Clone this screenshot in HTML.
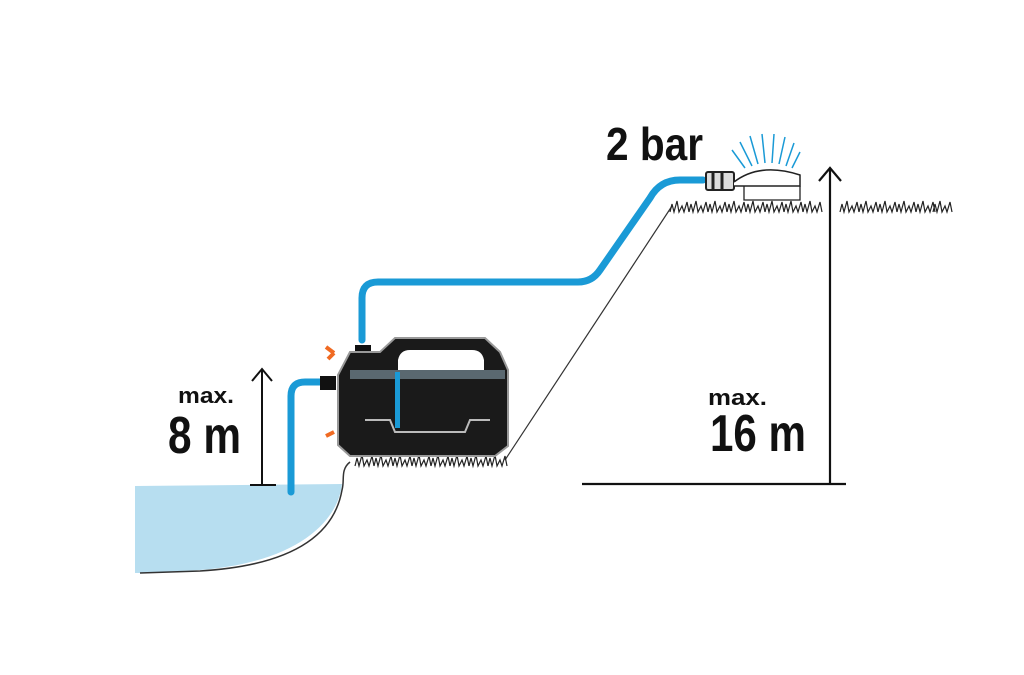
<!DOCTYPE html>
<html><head><meta charset="utf-8"><style>
html,body{margin:0;padding:0;background:#fff;}
svg{display:block;}
text{font-family:"Liberation Sans",sans-serif;font-weight:bold;fill:#111;}
</style></head><body>
<svg width="1024" height="675" viewBox="0 0 1024 675" xmlns="http://www.w3.org/2000/svg">
<defs>
<path id="g" d="M0,0 l2,-8 l2,8 l3,-11 l2,11 l3,-6 l2,6 l3,-10 l2,10"/>
</defs>
<!-- water -->
<path d="M135,486 L342,484 C338,520 300,562 200,570 L140,573 L135,573 Z" fill="#b7def0"/>
<path d="M350,462 C340,470 345,480 342,490 C335,530 300,565 200,571 L140,573" fill="none" stroke="#333" stroke-width="1.5"/>
<!-- slope line -->
<path d="M505,460 L672,206" fill="none" stroke="#333" stroke-width="1.2"/>
<!-- grass -->
<g fill="none" stroke="#222" stroke-width="1.2">
<use href="#g" x="355" y="466"/><use href="#g" x="374" y="466"/><use href="#g" x="393" y="466"/><use href="#g" x="412" y="466"/><use href="#g" x="431" y="466"/><use href="#g" x="450" y="466"/><use href="#g" x="469" y="466"/><use href="#g" x="488" y="466"/>
<use href="#g" x="670" y="212"/><use href="#g" x="689" y="212"/><use href="#g" x="708" y="212"/><use href="#g" x="727" y="212"/><use href="#g" x="746" y="212"/><use href="#g" x="765" y="212"/><use href="#g" x="784" y="212"/><use href="#g" x="803" y="212"/>
<use href="#g" x="840" y="212"/><use href="#g" x="859" y="212"/><use href="#g" x="878" y="212"/><use href="#g" x="897" y="212"/><use href="#g" x="916" y="212"/><use href="#g" x="933" y="212"/>
</g>
<!-- arrows -->
<path d="M262,485 V370 M252,381 L262,369 L272,381 M250,485 H276" fill="none" stroke="#111" stroke-width="2"/>
<path d="M830,484 V168 M819,181 L830,168 L841,181 M582,484 H846" fill="none" stroke="#111" stroke-width="2.2"/>
<!-- hoses -->
<path d="M291,492 V396 Q291,382 305,382 H322" fill="none" stroke="#1a9ad6" stroke-width="7" stroke-linecap="round"/>
<path d="M362,340 V298 Q362,282 378,282 H578 Q592,282 600,270 L650,198 Q660,180 680,180 H703" fill="none" stroke="#1a9ad6" stroke-width="7" stroke-linecap="round"/>
<!-- pump -->
<rect x="355" y="345" width="16" height="12" fill="#111"/>
<rect x="320" y="376" width="16" height="14" fill="#111"/>
<path d="M334,353 l-8,-6 M334,353 l-6,6 M334,432 l-8,4" stroke="#f06a22" stroke-width="4"/>
<path d="M338,375 L350,352 L380,352 L395,338 L485,338 L500,352 L508,370 L508,446 L495,456 L350,456 L338,445 Z" fill="#1a1a1a" stroke="#999" stroke-width="2"/>
<path d="M398,370 L398,360 Q400,350 410,350 H472 Q482,350 484,360 L484,370 Z" fill="#fff"/>
<rect x="350" y="370" width="155" height="9" fill="#5a6870"/>
<path d="M365,420 H390 L395,432 H465 L470,420 H490" fill="none" stroke="#bbb" stroke-width="2"/>
<rect x="395" y="372" width="5" height="56" fill="#1a9ad6"/>
<!-- sprinkler -->
<rect x="706" y="172" width="28" height="18" rx="2" fill="#ddd" stroke="#222" stroke-width="2"/>
<path d="M713,172 v18 M722,172 v18" stroke="#222" stroke-width="3"/>
<path d="M734,182 Q760,162 800,175 L800,186 L734,186" fill="#fff" stroke="#222" stroke-width="1.5"/>
<path d="M744,186 V200 H800 V186" fill="none" stroke="#222" stroke-width="1.3"/>
<g stroke="#1a9ad6" stroke-width="1.5">
<path d="M745,168 L732,150 M752,166 L740,142 M758,164 L750,136 M765,163 L762,134 M772,163 L774,134 M779,164 L785,137 M786,166 L794,143 M792,168 L800,152"/>
</g>
<!-- text -->
<text x="606" y="160" font-size="46" textLength="97" lengthAdjust="spacingAndGlyphs">2 bar</text>
<text x="178" y="403" font-size="22" textLength="56" lengthAdjust="spacingAndGlyphs">max.</text>
<text x="168" y="453" font-size="52" textLength="73" lengthAdjust="spacingAndGlyphs">8 m</text>
<text x="708" y="405" font-size="22" textLength="59" lengthAdjust="spacingAndGlyphs">max.</text>
<text x="710" y="451" font-size="52" textLength="96" lengthAdjust="spacingAndGlyphs">16 m</text>
</svg>
</body></html>
